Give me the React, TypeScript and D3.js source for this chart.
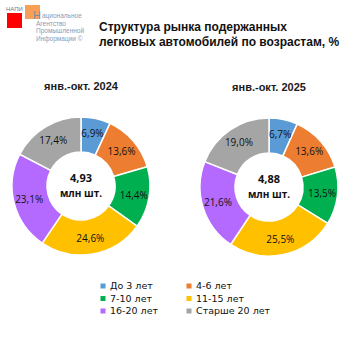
import React from 'react';
import * as d3 from 'd3';

const categories = ['До 3 лет', '4-6 лет', '7-10 лет', '11-15 лет', '16-20 лет', 'Старше 20 лет'];
const colors = ['#5B9BD5', '#ED7D31', '#00B050', '#FFC000', '#B469FF', '#A5A5A5'];
const values2024 = [6.9, 13.6, 14.4, 24.6, 23.1, 17.4];
const values2025 = [6.7, 13.6, 13.5, 25.5, 21.6, 19.0];
const periods = ['янв.-окт. 2024', 'янв.-окт. 2025'];
const totals = ['4,93', '4,88'];
const logoLines = ['ациональное', 'Агентство', 'Промышленной', 'Информации ©'];

const W = 353;
const H = 353;
const outerR = 69;
const innerR = 34;

const fmt = (v: number) => v.toFixed(1).replace('.', ',') + '%';

const Donut = ({ cx, cy, values, period, total }: { cx: number; cy: number; values: number[]; period: string; total: string }) => {
  const pie = d3.pie<number>().sort(null).value(d => d);
  const arc = d3.arc<d3.PieArcDatum<number>>().innerRadius(innerR).outerRadius(outerR);
  const labelArc = d3.arc<d3.PieArcDatum<number>>().innerRadius((innerR + outerR) / 2 + 2).outerRadius((innerR + outerR) / 2 + 2);
  const arcs = pie(values);
  return (
    <g>
      <text x={cx} y={cy - 96} textAnchor="middle" fontFamily="'Liberation Sans', Arial, sans-serif" fontWeight="bold" fontSize={11} fill="#1a1a1a">{period}</text>
      <g transform={`translate(${cx},${cy})`}>
        {arcs.map((a, i) => (
          <path key={i} d={arc(a) || ''} fill={colors[i]} stroke="#fff" strokeWidth={1.5} />
        ))}
        {arcs.map((a, i) => {
          const [x, y] = labelArc.centroid(a);
          return (
            <text key={'l' + i} x={x} y={y} dy="0.35em" textAnchor="middle" fontFamily="'Open Sans', sans-serif" fontSize={10} fill="#111">{fmt(values[i])}</text>
          );
        })}
        <text x={0} y={-4} textAnchor="middle" fontFamily="'Open Sans', sans-serif" fontWeight="bold" fontSize={11} fill="#111">{total}</text>
        <text x={0} y={11} textAnchor="middle" fontFamily="'Open Sans', sans-serif" fontWeight="bold" fontSize={10} fill="#111">млн шт.</text>
      </g>
    </g>
  );
};

export default function App() {
  const legendX = d3.scalePoint<number>().domain([0, 1]).range([103, 189]);
  const legendY = d3.scalePoint<number>().domain([0, 1, 2]).range([286, 311]);
  return (
    <svg width={W} height={H} style={{ position: 'absolute', left: 0, top: 0, background: '#fff' }}>
      <rect width={W} height={H} fill="#fff" />
      {/* logo */}
      <text x={6} y={11} fontFamily="'Liberation Sans', Arial, sans-serif" fontSize={6} fill="#6a7a9a">НАПИ</text>
      <rect x={25} y={5} width={15} height={14} fill="#F79646" opacity={0.9} />
      <rect x={7} y={13} width={15} height={15} fill="#FF0000" />
      <text x={33} y={19} fontFamily="'Liberation Sans', Arial, sans-serif" fontSize={11} fill="#7a8aa0">Н</text>
      {logoLines.map((t, i) => (
        <text key={i} x={i === 0 ? 42 : 36} y={18 + i * 7.7} fontFamily="'Liberation Sans', Arial, sans-serif" fontSize={6.5} fill="#8a9ab8">{t}</text>
      ))}
      {/* title */}
      <text x={99} y={31} fontFamily="'Liberation Sans', Arial, sans-serif" fontWeight="bold" fontSize={12} fill="#111">Структура рынка подержанных</text>
      <text x={99} y={46} fontFamily="'Liberation Sans', Arial, sans-serif" fontWeight="bold" fontSize={12} fill="#111">легковых автомобилей по возрастам, %</text>
      <Donut cx={81} cy={186} values={values2024} period={periods[0]} total={totals[0]} />
      <Donut cx={269} cy={187} values={values2025} period={periods[1]} total={totals[1]} />
      {/* legend */}
      {categories.map((c, i) => {
        const x = legendX(i % 2) as number;
        const y = legendY(Math.floor(i / 2)) as number;
        return (
          <g key={c}>
            <rect x={x - 2.5} y={y - 2.5} width={5} height={5} fill={colors[i]} />
            <text x={x + 7} y={y} dy="0.35em" fontFamily="'DejaVu Sans', Tahoma, sans-serif" fontSize={9.5} fill="#111">{c}</text>
          </g>
        );
      })}
    </svg>
  );
}
